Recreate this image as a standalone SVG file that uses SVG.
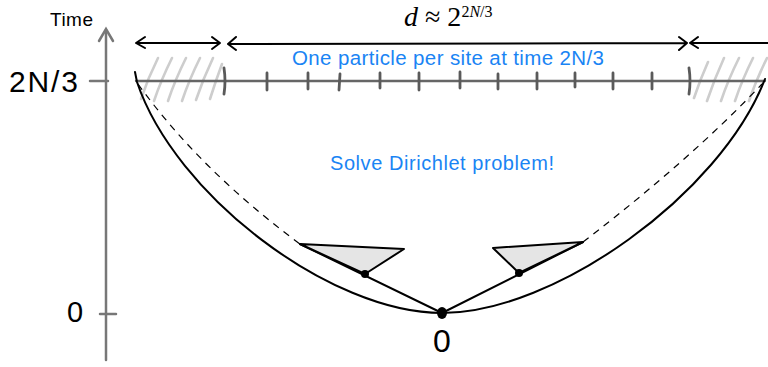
<svg xmlns="http://www.w3.org/2000/svg" width="768" height="367" viewBox="0 0 768 367">
<style>
.ax{stroke:#777;stroke-width:2.5;fill:none;stroke-linecap:round}
.tk{stroke:#5a5a5a;stroke-width:2.8;fill:none;stroke-linecap:round}
.hatch{stroke:#cdcdcd;stroke-width:2.6;fill:none;stroke-linecap:round}
.blk{stroke:#000;stroke-width:2;fill:none;stroke-linecap:round;stroke-linejoin:round}
.dash{stroke:#000;stroke-width:1.2;fill:none;stroke-dasharray:7 6}
.tri{fill:#e5e5e5;stroke:#000;stroke-width:2;stroke-linejoin:round}
.lbl{font-family:"Liberation Sans",Arial,sans-serif;fill:#000}
.blue{font-family:"Liberation Sans",Arial,sans-serif;fill:#1a84f4}
</style>
<rect width="768" height="367" fill="#fff"/>
<g id="axis">
<path class="ax" d="M106,30 L106,360"/>
<path class="ax" d="M99,41 L106,29 L113,41"/>
<path class="ax" d="M90,81 L108,81"/>
<path class="ax" d="M100,314 L116,314"/>
<text class="lbl" x="50" y="26" font-size="19" textLength="43">Time</text>
<text class="lbl" x="9" y="92" font-size="30" textLength="69">2N/3</text>
<text class="lbl" x="67" y="322" font-size="29">0</text>
</g>
<g id="hatching">
<path class="hatch" d="M141,99 Q148,78 158,58 M154,101 Q161,80 172,58 M168,101 Q175,80 186,58 M182,101 Q189,80 200,58 M196,100 Q203,79 213,58 M210,99 Q216,80 222,64"/>
<path class="hatch" d="M694,98 Q700,80 708,62 M707,101 Q714,80 724,58 M721,101 Q728,80 739,58 M735,101 Q742,80 753,58 M749,101 Q756,80 767,58"/>
</g>
<g id="lattice">
<path class="tk" d="M136,81 L765,81" style="stroke:#666;stroke-width:2.3"/>
<path class="tk" d="M224,68 Q226,81 224,94 M689,68 Q691,81 689,94"/>
<path class="tk" d="M267,73 L267,90 M308,73 L308,89 M340,74 L339,90 M380,73 L380,88 M419,73 L419,90 M460,72 L460,88 M498,74 L498,89 M537,73 L537,89 M575,73 L575,87 M613,73 L613,89 M652,73 L652,89"/>
</g>
<g id="arrows">
<path class="blk" d="M137,43 L219,43 M145,37 L136,43 L145,48 M212,37 L220,43 L212,49"/>
<path class="blk" d="M229,44 L686,43 M236,37 L228,44 L236,50 M679,37 L687,43 L679,50"/>
<path class="blk" d="M691,43 L768,43 M698,37 L690,43 L698,48"/>
</g>
<g id="labels">
<text x="404" y="26" font-family="Liberation Serif,serif" font-size="28"><tspan font-style="italic">d</tspan> ≈ 2<tspan font-size="16" dy="-9"><tspan>2</tspan><tspan font-style="italic">N</tspan><tspan>/3</tspan></tspan></text>
<text class="blue" x="292" y="65" font-size="20.5" textLength="312">One particle per site at time 2N/3</text>
<text class="blue" x="330" y="170" font-size="20" textLength="224">Solve Dirichlet problem!</text>
</g>
<g id="connectors">
<path class="blk" d="M135,72 L137,82 C175,195 330,313 442,313 C554,313 720,195 765,79"/>
<path class="dash" d="M138,84 Q200,170 300,244"/>
<path class="dash" d="M583,242 Q690,160 762,84"/>
<path class="blk" d="M300,244 L442,313 L583,242"/>
</g>
<g id="left-cone">
<polygon class="tri" points="300,244 404,249 365,274"/>
<circle cx="365" cy="274" r="4"/>
</g>
<g id="right-cone">
<polygon class="tri" points="493,248 583,242 519,273"/>
<circle cx="519" cy="273" r="4"/>
</g>
<g id="origin">
<ellipse cx="442" cy="313" rx="5" ry="6"/>
<text class="lbl" x="442" y="352" font-size="32" text-anchor="middle">0</text>
</g>
</svg>
